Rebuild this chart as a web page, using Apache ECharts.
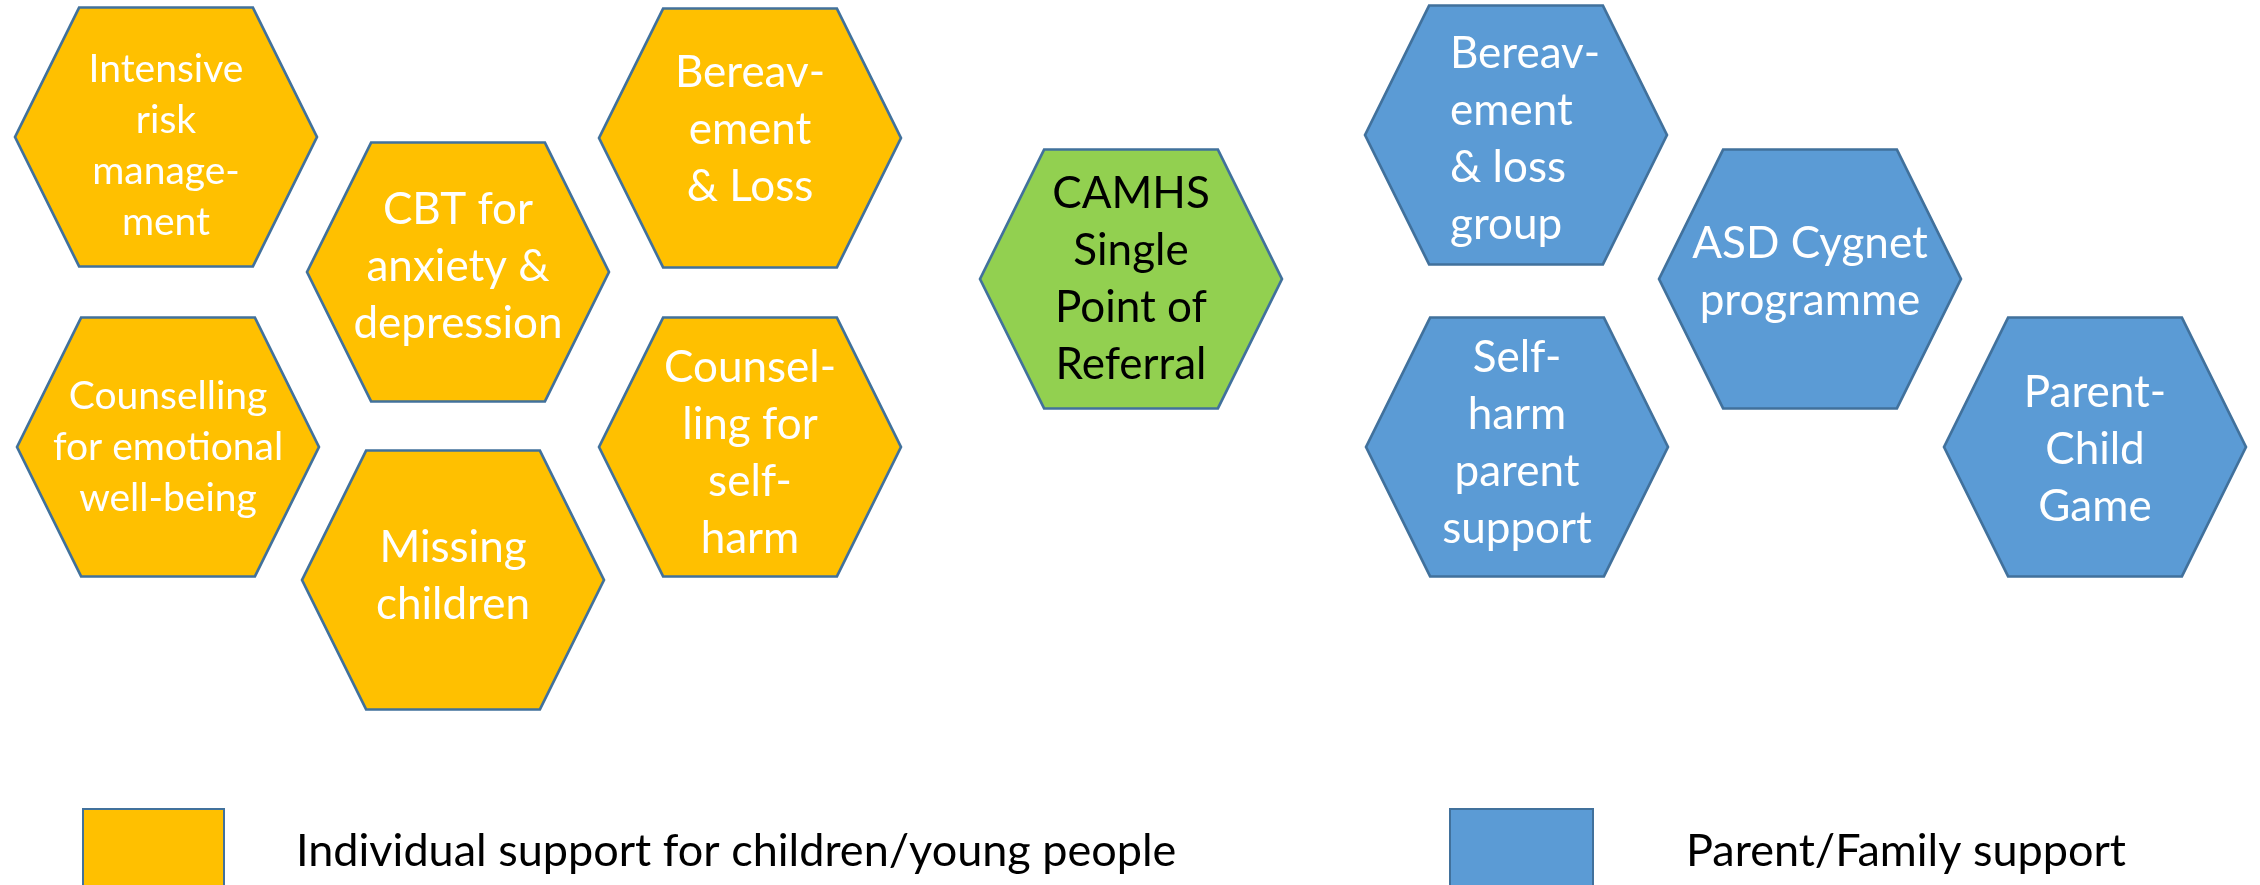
<!DOCTYPE html>
<html>
<head>
<meta charset="utf-8">
<title>CAMHS services</title>
<script src="https://cdn.jsdelivr.net/npm/echarts@6/dist/echarts.min.js"></script>
<style>
    html, body { margin: 0; padding: 0; background: #fff; }
    #services_map { width: 2260px; height: 885px; }
</style>
</head>
<body>
<div id="services_map"></div>
<script>
// one hexagon per service, centre (page pixels)
const services = [
    'Intensive\nrisk\nmanage-\nment',
    'Counselling\nfor emotional\nwell-being',
    'CBT for\nanxiety &\ndepression',
    'Missing\nchildren',
    'Bereav-\nement\n& Loss',
    'Counsel-\nling for\nself-\nharm',
    'CAMHS\nSingle\nPoint of\nReferral',
    'Bereav-\nement\n& loss\ngroup',
    'ASD Cygnet\nprogramme',
    'Self-\nharm\nparent\nsupport',
    'Parent-\nChild\nGame'
];
const serviceX = [166, 168, 458, 453, 750, 750, 1131, 1516, 1810, 1517, 2095];
const serviceY = [137, 447, 272, 580, 138, 447, 279, 135, 279, 447, 447];
const serviceGroup = [0, 0, 0, 0, 0, 0, 1, 2, 2, 2, 2];
const groupNames = [
    'Individual support for children/young people',
    'CAMHS Single Point of Referral',
    'Parent/Family support'
];

const groupColors = ['#FFC000', '#92D050', '#5B9BD5'];
const groupTextColors = ['#fff', '#000', '#fff'];
// autofit shrank the text in these two shapes
const smallText = [0, 1];
const leftText = [7];
// small vertical shift of each text block inside its shape
const textNudge = [9, 0, -5, -4, -8, 6, 0, 4, -7, -4, 3];

const hexPath = 'path://M21.25 0L78.75 0L100 50L78.75 100L21.25 100L0 50Z';

let chart = echarts.init(document.getElementById('services_map'));

let series = groupNames.map(function (name, g) {
    let data = [];
    services.forEach(function (label, i) {
        if (serviceGroup[i] !== g) return;
        let item = { name: label, value: [serviceX[i], serviceY[i]] };
        let lbl = { offset: [0, textNudge[i]] };
        if (smallText.indexOf(i) >= 0) {
            lbl.fontSize = 39;
            lbl.lineHeight = 51;
        }
        if (leftText.indexOf(i) >= 0) {
            lbl.align = 'left';
            lbl.offset = [-66, textNudge[i]];
        }
        item.label = lbl;
        data.push(item);
    });
    return {
        name: name,
        type: 'scatter',
        symbol: hexPath,
        symbolSize: [302, 259],
        itemStyle: {
            color: groupColors[g],
            borderColor: '#41719C',
            borderWidth: 2.5,
            opacity: 1
        },
        label: {
            show: true,
            position: 'inside',
            formatter: '{b}',
            color: groupTextColors[g],
            fontFamily: 'Lato',
            fontSize: 44,
            lineHeight: 57
        },
        emphasis: { disabled: true },
        data: data
    };
});

chart.setOption({
    backgroundColor: '#fff',
    animation: false,
    grid: { left: 0, right: 0, top: 0, bottom: 0 },
    xAxis: { type: 'value', min: 0, max: 2260, show: false },
    yAxis: { type: 'value', min: 0, max: 885, inverse: true, show: false },
    legend: [{
        data: [groupNames[0]],
        left: 82,
        top: 808,
        padding: 0,
        icon: 'rect',
        itemWidth: 141,
        itemHeight: 84,
        selectedMode: false,
        itemStyle: { borderColor: '#41719C', borderWidth: 2 },
        textStyle: { fontFamily: 'Lato', fontSize: 45, color: '#000', padding: [0, 0, 0, 67] }
    }, {
        data: [groupNames[2]],
        left: 1449,
        top: 808,
        padding: 0,
        icon: 'rect',
        itemWidth: 143,
        itemHeight: 84,
        selectedMode: false,
        itemStyle: { borderColor: '#41719C', borderWidth: 2 },
        textStyle: { fontFamily: 'Lato', fontSize: 45, color: '#000', padding: [0, 0, 0, 88] }
    }],
    series: series
});

window.addEventListener('resize', function () {
    chart.resize();
});
</script>
</body>
</html>
